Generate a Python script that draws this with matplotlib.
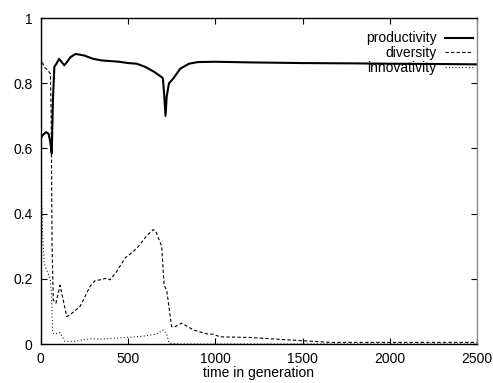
import matplotlib
matplotlib.use("Agg")
import matplotlib.pyplot as plt

plt.rcParams['font.family'] = ['Liberation Sans', 'DejaVu Sans']

# productivity (solid)
prod_x = [0, 10, 30, 45, 55, 63, 70, 78, 90, 105, 120, 135, 150, 170, 200, 250, 300,
          350, 400, 450, 500, 550, 600, 650, 690, 700, 708, 715, 722, 735, 760, 800,
          850, 900, 1000, 1200, 1500, 1800, 2000, 2300, 2500]
prod_y = [0.63, 0.64, 0.65, 0.645, 0.62, 0.585, 0.75, 0.85, 0.86, 0.875, 0.865, 0.855,
          0.865, 0.88, 0.89, 0.885, 0.875, 0.87, 0.868, 0.866, 0.862, 0.86, 0.85, 0.835,
          0.82, 0.815, 0.76, 0.70, 0.76, 0.80, 0.815, 0.845, 0.86, 0.865, 0.866, 0.864,
          0.862, 0.861, 0.86, 0.859, 0.858]

# diversity (dashed)
div_x = [0, 5, 20, 40, 55, 60, 65, 72, 87, 111, 149, 178, 225, 282, 311, 340, 378, 397,
         435, 483, 531, 559, 607, 645, 660, 693, 707, 722, 750, 769, 808, 875, 951, 989,
         1028, 1200, 1500, 1660, 2000, 2500]
div_y = [1.0, 0.87, 0.85, 0.84, 0.83, 0.70, 0.30, 0.135, 0.125, 0.18, 0.084, 0.094, 0.115,
         0.176, 0.194, 0.197, 0.202, 0.197, 0.222, 0.264, 0.284, 0.299, 0.332, 0.351,
         0.345, 0.30, 0.18, 0.165, 0.053, 0.053, 0.064, 0.043, 0.031, 0.03, 0.022, 0.02,
         0.01, 0.005, 0.005, 0.005]

# innovativity (dotted)
inn_x = [0, 3, 6, 10, 20, 30, 40, 55, 62, 68, 80, 111, 139, 187, 282, 350, 489, 584,
         660, 703, 722, 732, 740, 800, 1000, 1500, 2000, 2500]
inn_y = [0.98, 0.7, 0.45, 0.35, 0.25, 0.23, 0.22, 0.2, 0.15, 0.035, 0.03, 0.035, 0.008,
         0.008, 0.016, 0.015, 0.02, 0.024, 0.03, 0.043, 0.03, 0.008, 0.002, 0.0, 0.0,
         0.0, 0.0, 0.0]

fig = plt.figure(figsize=(4.93, 3.83), dpi=100)
ax = fig.add_axes([0.0826, 0.1018, 0.885, 0.851])

ax.plot(prod_x, prod_y, color='black', lw=1.5, label='productivity')
ax.plot(div_x, div_y, color='black', lw=0.8, ls=(0, (3, 2)), label='diversity')
ax.plot(inn_x, inn_y, color='#222222', lw=0.8, ls=(0, (1, 2)), label='innovativity')

ax.set_xlim(0, 2500)
ax.set_ylim(0, 1)
ax.set_xticks([0, 500, 1000, 1500, 2000, 2500])
ax.set_yticks([0, 0.2, 0.4, 0.6, 0.8, 1])
ax.set_yticklabels(['0', '0.2', '0.4', '0.6', '0.8', '1'])
ax.tick_params(direction='in', top=True, right=True, length=4, width=0.8,
               labelsize=10, pad=6)
ax.set_xlabel('time in generation', fontsize=10, labelpad=0)
for s in ax.spines.values():
    s.set_linewidth(1.0)
ax.spines['right'].set_color('#888888')

leg = ax.legend(loc='upper right', bbox_to_anchor=(1.0, 0.972), frameon=False,
                fontsize=10, markerfirst=False, handlelength=2.0, handletextpad=0.6,
                labelspacing=0.05, borderaxespad=0.0, borderpad=0.3,
                alignment='right')
leg.set_zorder(1)

fig.savefig('out.png', dpi=100)
